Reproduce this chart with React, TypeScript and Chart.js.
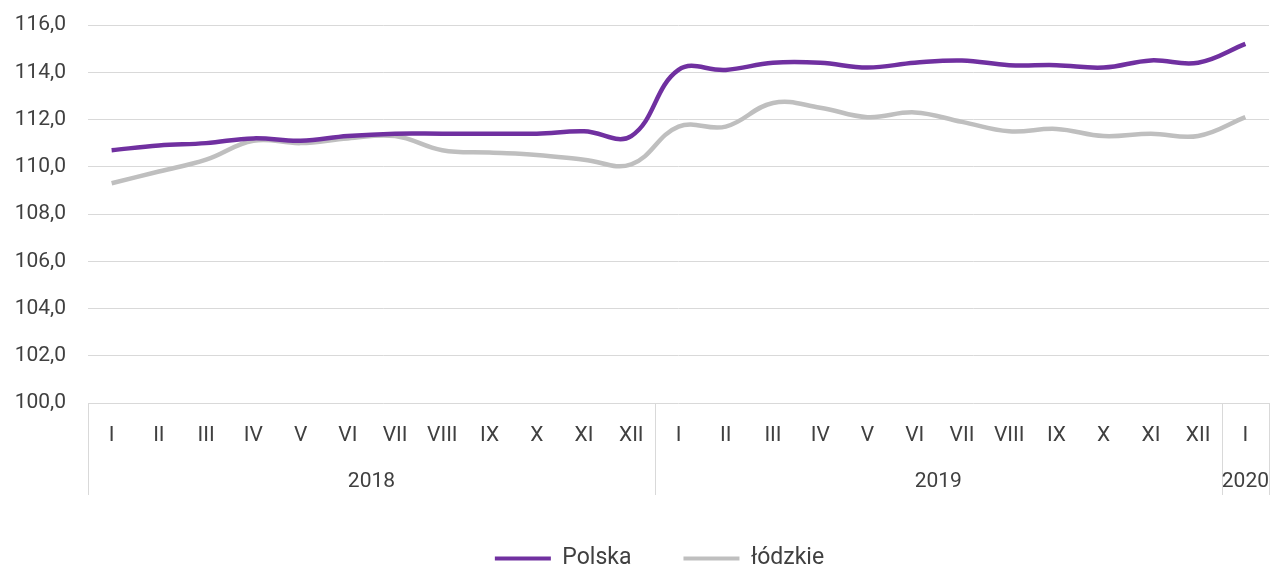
import React, { useEffect, useRef } from "react";
import { Chart, registerables } from "chart.js";

Chart.register(...registerables);

const months = ["I", "II", "III", "IV", "V", "VI", "VII", "VIII", "IX", "X", "XI", "XII", "I", "II", "III", "IV", "V", "VI", "VII", "VIII", "IX", "X", "XI", "XII", "I"];
const years = ["2018", "2019", "2020"];
const yearSpans = [12, 12, 1];
const polska = [110.7, 110.9, 111.0, 111.2, 111.1, 111.3, 111.4, 111.4, 111.4, 111.4, 111.5, 111.3, 114.1, 114.1, 114.4, 114.4, 114.2, 114.4, 114.5, 114.3, 114.3, 114.2, 114.5, 114.4, 115.2];
const lodzkie = [109.3, 109.8, 110.3, 111.1, 111.0, 111.2, 111.3, 110.7, 110.6, 110.5, 110.3, 110.1, 111.7, 111.7, 112.7, 112.5, 112.1, 112.3, 111.9, 111.5, 111.6, 111.3, 111.4, 111.3, 112.1];
const seriesNames = ["Polska", "łódzkie"];
const yMin = 100;
const yMax = 116;
const yStep = 2;

const FONT = "Roboto, sans-serif";
const TEXT = "#404040";
const GRID = "#d9d9d9";
const X_AXIS_H = 92;

const yearAxisPlugin = {
  id: "yearAxis",
  afterLayout(chart: any) {
    if (chart.legend) {
      chart.legend.left += 25;
      chart.legend.right += 25;
    }
  },
  afterDraw(chart: any) {
    const xs = chart.scales.x;
    const ctx = chart.ctx;
    const step = xs.getPixelForValue(1) - xs.getPixelForValue(0);
    const top = chart.chartArea.bottom;
    const bottom = top + X_AXIS_H;
    ctx.save();
    ctx.strokeStyle = GRID;
    ctx.lineWidth = 1;
    ctx.fillStyle = TEXT;
    ctx.font = `21px ${FONT}`;
    ctx.textAlign = "center";
    ctx.textBaseline = "middle";
    let idx = 0;
    const vline = (x: number) => {
      const px = Math.round(x) + 0.5;
      ctx.beginPath();
      ctx.moveTo(px, top);
      ctx.lineTo(px, bottom);
      ctx.stroke();
    };
    years.forEach((y, i) => {
      const span = yearSpans[i];
      const left = xs.getPixelForValue(idx) - step / 2;
      const right = xs.getPixelForValue(idx + span - 1) + step / 2;
      vline(left);
      if (i === years.length - 1) vline(right);
      ctx.fillText(y, (left + right) / 2, top + 79);
      idx += span;
    });
    ctx.restore();
  },
};

export default function App() {
  const ref = useRef<HTMLCanvasElement>(null);
  useEffect(() => {
    if (!ref.current) return;
    const chart = new Chart(ref.current, {
      type: "line",
      data: {
        labels: months,
        datasets: [
          {
            label: seriesNames[0],
            data: polska,
            borderColor: "#7030a0",
            backgroundColor: "#7030a0",
            borderWidth: 4.5,
            pointRadius: 0,
            tension: 0.4,
          },
          {
            label: seriesNames[1],
            data: lodzkie,
            borderColor: "#bfbfbf",
            backgroundColor: "#bfbfbf",
            borderWidth: 4.5,
            pointRadius: 0,
            tension: 0.4,
          },
        ],
      },
      options: {
        animation: false,
        responsive: true,
        maintainAspectRatio: false,
        layout: { padding: { top: 25, right: 3, left: 0, bottom: -16 } },
        plugins: {
          tooltip: { enabled: false },
          legend: {
            position: "bottom",
            labels: {
              font: { family: FONT, size: 23 },
              color: TEXT,
              boxWidth: 56,
              boxHeight: 4,
              padding: 52,
              generateLabels: (c: any) =>
                Chart.defaults.plugins.legend.labels.generateLabels(c).map((l: any) => ({ ...l, lineWidth: 0 })),
            },
          },
        },
        scales: {
          x: {
            offset: true,
            grid: { display: false, drawTicks: false },
            border: { display: false },
            ticks: {
              autoSkip: false,
              maxRotation: 0,
              padding: 20,
              color: TEXT,
              font: { family: FONT, size: 21 },
            },
            afterFit: (s: any) => {
              s.height = X_AXIS_H;
            },
          },
          y: {
            min: yMin,
            max: yMax,
            grid: { color: GRID, drawTicks: false },
            border: { display: false },
            ticks: {
              stepSize: yStep,
              padding: 22,
              color: TEXT,
              font: { family: FONT, size: 21, lineHeight: 0.2 },
              callback: (v: any) => Number(v).toFixed(1).replace(".", ","),
            },
            afterFit: (s: any) => {
              s.width = 88;
            },
          },
        },
      },
      plugins: [yearAxisPlugin],
    });
    return () => chart.destroy();
  }, []);
  return (
    <div style={{ position: "absolute", left: 0, top: 0, width: 1272, height: 564, background: "#fff" }}>
      <canvas ref={ref} />
    </div>
  );
}
